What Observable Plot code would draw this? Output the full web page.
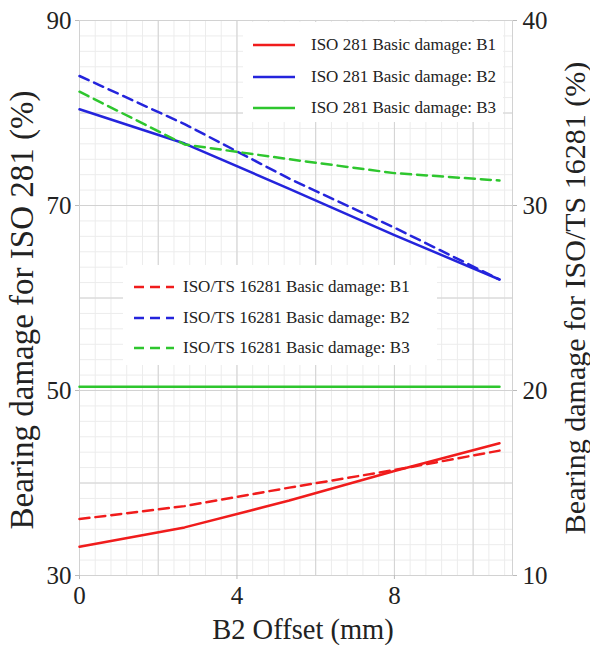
<!DOCTYPE html>
<html><head><meta charset="utf-8">
<style>
body{margin:0;background:#fff;}
#wrap{position:relative;width:590px;height:645px;font-family:'Liberation Serif',serif;}
.legend{position:absolute;background:#fff;font-family:'Liberation Serif',serif;}
.row{position:absolute;display:flex;align-items:center;height:24px;font-size:17px;color:#222;white-space:nowrap;}
</style>
<script src="https://cdn.jsdelivr.net/npm/d3@7"></script>
<script src="https://cdn.jsdelivr.net/npm/@observablehq/plot@0.6"></script>
</head>
<body><div id="wrap"></div>
<script>
// x values: B2 offset (mm)
const offset = [0, 2.67, 5.33, 8, 10.67];
// ISO 281 (left axis, %)
const iso281B1 = [33.1, 35.2, 38.1, 41.3, 44.3];
const iso281B2 = [80.4, 76.7, 71.8, 66.8, 62.0];
const iso281B3 = [50.4, 50.4, 50.4, 50.4, 50.4];
// ISO/TS 16281 (right axis, %)
const ts16281B1 = [13.05, 13.75, 14.75, 15.7, 16.75];
const ts16281B2 = [37.0, 34.4, 31.45, 28.8, 26.0];
const ts16281B3 = [36.15, 33.3, 32.5, 31.75, 31.35];

const seriesNames = [
  "ISO 281 Basic damage: B1","ISO 281 Basic damage: B2","ISO 281 Basic damage: B3",
  "ISO/TS 16281 Basic damage: B1","ISO/TS 16281 Basic damage: B2","ISO/TS 16281 Basic damage: B3"
];
const seriesColors = ["#f01c1c","#2424dc","#2ec62e","#f01c1c","#2424dc","#2ec62e"];
const xTicks = [0, 4, 8];
const leftTicks = [30, 50, 70, 90];
const xTitle = "B2 Offset (mm)";
const yLeftTitle = "Bearing damage for ISO 281 (%)";
const yRightTitle = "Bearing damage for ISO/TS 16281 (%)";

const toLeft = r => 2 * r + 10;   // right-axis value -> left-axis scale
const toRight = v => (v - 10) / 2;

const solid = [];
[iso281B1, iso281B2, iso281B3].forEach((arr, i) =>
  arr.forEach((v, j) => solid.push({x: offset[j], y: v, key: seriesNames[i]})));
const dashed = [];
[ts16281B1, ts16281B2, ts16281B3].forEach((arr, i) =>
  arr.forEach((v, j) => dashed.push({x: offset[j], y: toLeft(v), key: seriesNames[i + 3]})));

const minorX = d3.range(0, 11.001, 0.4);
const majorX = d3.range(0, 11, 2);
const minorY = d3.range(0, 37).map(i => 30 + i * 10 / 6);
const majorY = d3.range(30, 91, 10);

const FONT = "'Liberation Serif', serif";
const chart = Plot.plot({
  width: 590, height: 645,
  marginLeft: 79, marginRight: 78, marginTop: 20, marginBottom: 70,
  x: {domain: [0, 11]},
  y: {domain: [30, 90]},
  color: {domain: seriesNames, range: seriesColors},
  style: {fontFamily: FONT, fontSize: "25px", color: "#222", background: "white"},
  marks: [
    Plot.gridX(minorX, {stroke: "#ececec", strokeOpacity: 1}),
    Plot.gridY(minorY, {stroke: "#ececec", strokeOpacity: 1}),
    Plot.gridX(majorX, {stroke: "#d2d2d2", strokeOpacity: 1}),
    Plot.gridY(majorY, {stroke: "#d2d2d2", strokeOpacity: 1}),
    Plot.frame({stroke: "#d2d2d2"}),
    Plot.axisX(xTicks, {tickSize: 4, tickPadding: 7, stroke: "#bbb", fontSize: 25, label: null}),
    Plot.axisY(leftTicks, {anchor: "left", tickSize: 4, tickPadding: 4, stroke: "#bbb", fontSize: 25, label: null}),
    Plot.axisY(leftTicks, {anchor: "right", tickSize: 4, tickPadding: 6, stroke: "#bbb", tickFormat: toRight, fontSize: 25, label: null}),
    Plot.text([xTitle], {text: d => d, frameAnchor: "bottom", textAnchor: "middle", lineAnchor: "middle", dx: 7, dy: 54, fontSize: 28.5, fill: "#222"}),
    Plot.text([yLeftTitle], {text: d => d, frameAnchor: "left", textAnchor: "middle", lineAnchor: "middle", rotate: -90, dx: -57, dy: 12, fontSize: 33, fill: "#222"}),
    Plot.text([yRightTitle], {text: d => d, frameAnchor: "right", textAnchor: "middle", lineAnchor: "middle", rotate: -90, dx: 63, dy: 0, fontSize: 30, fill: "#222"}),
    Plot.line(solid, {x: "x", y: "y", z: "key", stroke: "key", strokeWidth: 2.5}),
    Plot.line(dashed, {x: "x", y: "y", z: "key", stroke: "key", strokeWidth: 2.5, strokeDasharray: "10,6"})
  ]
});
const wrap = document.getElementById("wrap");
wrap.appendChild(chart);

function legend(box, items, swatch, textLeft, rowCenters) {
  const div = document.createElement("div");
  div.className = "legend";
  Object.assign(div.style, {left: box[0] + "px", top: box[1] + "px", width: box[2] + "px", height: box[3] + "px"});
  items.forEach((idx, k) => {
    const row = document.createElement("div");
    row.className = "row";
    row.style.left = (swatch[0] - box[0]) + "px";
    row.style.top = (rowCenters[k] - box[1] - 12) + "px";
    const dash = idx >= 3 ? 'stroke-dasharray="10,6"' : "";
    row.innerHTML = `<svg width="${swatch[1]}" height="24" style="margin-right:${textLeft - swatch[0] - swatch[1]}px"><line x1="0" x2="${swatch[1]}" y1="12" y2="12" stroke="${seriesColors[idx]}" stroke-width="2.5" ${dash}/></svg><span>${seriesNames[idx]}</span>`;
    div.appendChild(row);
  });
  wrap.appendChild(div);
}
legend([243, 22, 260, 100], [0, 1, 2], [253, 42], 311, [45, 77, 108]);
legend([123, 265, 314, 100], [3, 4, 5], [134, 40], 183, [287, 318, 348]);
</script>
</body></html>
